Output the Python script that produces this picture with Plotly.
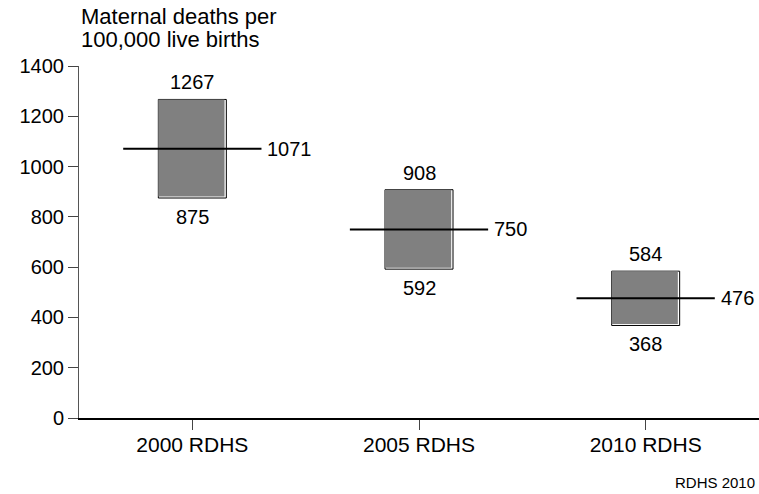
import plotly.graph_objects as go

categories = ["2000 RDHS", "2005 RDHS", "2010 RDHS"]
estimate = [1071, 750, 476]
lower = [875, 592, 368]
upper = [1267, 908, 584]
y_ticks = [0, 200, 400, 600, 800, 1000, 1200, 1400]

FONT = "Liberation Sans, Arial, sans-serif"
idx = list(range(len(categories)))
box_w = 0.30
line_half = 0.305

fig = go.Figure()

# outer box (white with black outline) -> gives white inset strip on right/bottom
fig.add_trace(go.Bar(
    x=idx, base=lower, y=[u - l for u, l in zip(upper, lower)],
    width=box_w, marker=dict(color="white", line=dict(color="black", width=1)),
    hoverinfo="skip", showlegend=False))
# gray fill, slightly smaller, anchored top-left
fig.add_trace(go.Bar(
    x=idx, base=[l + 6 for l in lower], y=[u - l - 6 for u, l in zip(upper, lower)],
    width=box_w - 0.008, offset=-box_w / 2,
    marker=dict(color="#808080", line=dict(width=0)),
    hoverinfo="skip", showlegend=False))

# estimate lines
for i, v in zip(idx, estimate):
    fig.add_trace(go.Scatter(
        x=[i - line_half, i + line_half], y=[v, v], mode="lines",
        line=dict(color="black", width=2), hoverinfo="skip", showlegend=False))

lab_font = dict(family=FONT, size=20, color="black")
annotations = []
for i, u, l, e in zip(idx, upper, lower, estimate):
    annotations.append(dict(x=i, y=u, xref="x", yref="y", text=str(u), showarrow=False,
                            xanchor="center", yanchor="middle", yshift=17, font=lab_font))
    annotations.append(dict(x=i, y=l, xref="x", yref="y", text=str(l), showarrow=False,
                            xanchor="center", yanchor="middle", yshift=-19, font=lab_font))
    annotations.append(dict(x=i + line_half, y=e, xref="x", yref="y", text=str(e), showarrow=False,
                            xanchor="left", yanchor="middle", xshift=4, font=lab_font))

title_font = dict(family=FONT, size=22, color="black")
annotations += [
    dict(text="Maternal deaths per", xref="paper", yref="paper", x=0, y=1,
         xanchor="left", yanchor="middle", yshift=50, showarrow=False, font=title_font),
    dict(text="100,000 live births", xref="paper", yref="paper", x=0, y=1,
         xanchor="left", yanchor="middle", yshift=27, showarrow=False, font=title_font),
    dict(text="RDHS 2010", xref="paper", yref="paper", x=1, y=0, xanchor="right",
         yanchor="middle", yshift=-64, xshift=-2, showarrow=False,
         font=dict(family=FONT, size=15, color="black")),
]

fig.update_layout(
    width=759, height=494,
    margin=dict(l=79, r=0, t=66, b=76),
    paper_bgcolor="white", plot_bgcolor="white",
    barmode="overlay",
    font=dict(family=FONT, size=20, color="black"),
    annotations=annotations,
)
fig.update_xaxes(
    range=[-0.5, 2.5], tickmode="array", tickvals=idx, ticktext=categories,
    showline=True, linecolor="black", linewidth=1.5, ticks="outside", ticklen=10,
    tickcolor="#444", showgrid=False, zeroline=False, ticklabelstandoff=-3,
    tickfont=dict(family=FONT, size=21, color="black"))
fig.update_yaxes(
    range=[0, 1400], tickmode="array", tickvals=y_ticks,
    showline=True, linecolor="#555", linewidth=1, ticks="outside", ticklen=10,
    tickcolor="#444", showgrid=False, zeroline=False,
    tickfont=dict(family=FONT, size=20, color="black"))

# remove the default 8px page margin so the 759x494 figure fills the window exactly
fig.write_html("out.html", config={"displayModeBar": False},
               post_script="document.body.style.margin='0';document.body.style.overflow='hidden';")
